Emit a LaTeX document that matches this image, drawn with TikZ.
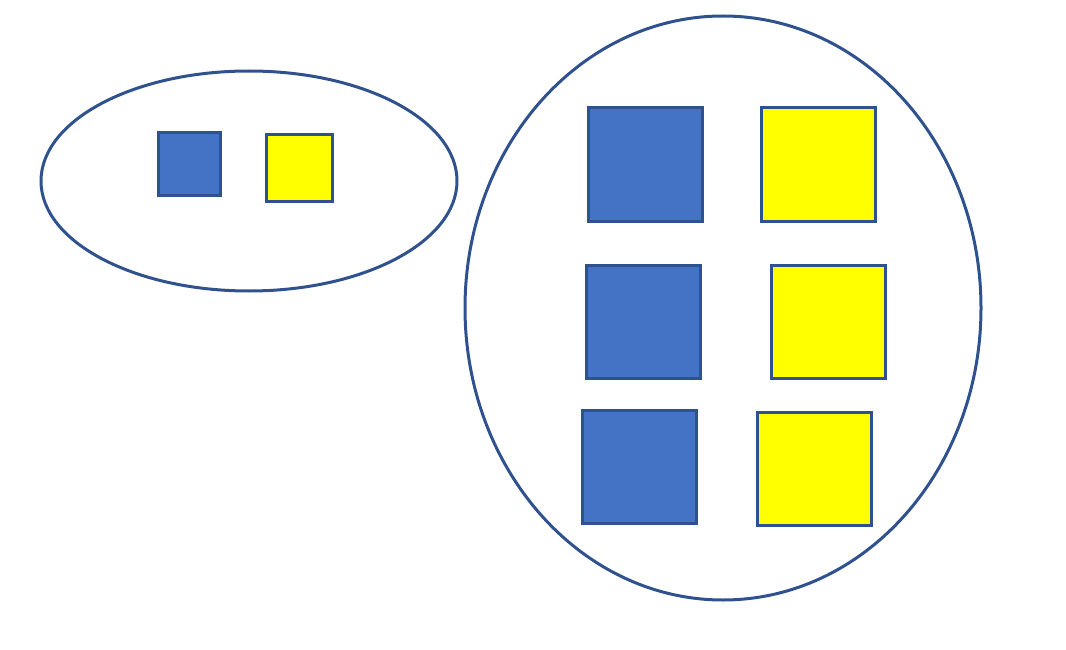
\documentclass[tikz,border=0pt]{standalone}
\usepackage{tikz}
\usetikzlibrary{positioning, shapes.geometric}
\definecolor{boxblue}{HTML}{4472C4}
\definecolor{edgeblue}{HTML}{2F528F}
\definecolor{boxyellow}{HTML}{FFFF00}

\begin{document}
\begin{tikzpicture}[
        x=1pt, y=-1pt,
        group/.style={ellipse, draw=edgeblue, line width=3pt, inner sep=0pt},
        bluebox/.style={rectangle, draw=edgeblue, fill=boxblue, line width=3pt, inner sep=0pt},
        yellowbox/.style={rectangle, draw=edgeblue, fill=boxyellow, line width=3pt, inner sep=0pt}
    ]
    \useasboundingbox (0,0) rectangle (1066,650);

    % Groups
    \node (Small) [group, minimum width=416pt, minimum height=220pt] at (249,181) {};
    \node (Large) [group, minimum width=516pt, minimum height=584pt] at (723,308) {};

    % Small group
    \node (SmallBlue) [bluebox, minimum width=62pt, minimum height=62pt] at (189,164) {};
    \node (SmallYellow) [yellowbox, minimum width=66pt, minimum height=66pt] at (299,168) {};

    % Large group
    \node (BlueA) [bluebox, minimum width=114pt, minimum height=113pt] at (645,164.5) {};
    \node (YellowA) [yellowbox, minimum width=114pt, minimum height=113pt] at (818,164.5) {};
    \node (BlueB) [bluebox, minimum width=114pt, minimum height=113pt] at (643,321.5) {};
    \node (YellowB) [yellowbox, minimum width=114pt, minimum height=113pt] at (828,321.5) {};
    \node (BlueC) [bluebox, minimum width=114pt, minimum height=113pt] at (639,466.5) {};
    \node (YellowC) [yellowbox, minimum width=114pt, minimum height=113pt] at (814,469) {};

\end{tikzpicture}
\end{document}
